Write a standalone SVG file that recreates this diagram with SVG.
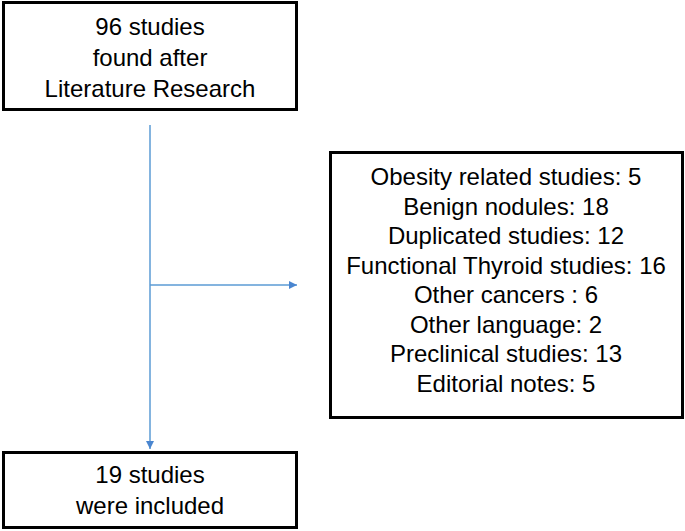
<svg xmlns="http://www.w3.org/2000/svg" width="685" height="531" viewBox="0 0 685 531">
<style>
.box{fill:#fff;stroke:#000;stroke-width:3}
.t{font-family:"Liberation Sans",Arial,sans-serif;font-size:24px;fill:#000;text-anchor:middle}
.c{fill:none;stroke:#5B9BD5;stroke-width:1.5}
</style>
<defs>
<marker id="ah" viewBox="0 0 10 10" refX="10" refY="5" markerWidth="9" markerHeight="8" markerUnits="userSpaceOnUse" orient="auto">
<path d="M0,0 L10,5 L0,10 z" fill="#4A86D0"/>
</marker>
</defs>
<g id="connectors">
<line class="c" x1="150" y1="125" x2="150" y2="449" marker-end="url(#ah)"/>
<line class="c" x1="150" y1="285" x2="297" y2="285" marker-end="url(#ah)"/>
</g>
<g id="n1">
<rect class="box" x="3.5" y="2.5" width="293" height="107"/>
<text class="t" x="150" y="35">96 studies</text>
<text class="t" x="150" y="66">found after</text>
<text class="t" x="150" y="97">Literature Research</text>
</g>
<g id="n2">
<rect class="box" x="330.5" y="152.5" width="352" height="265"/>
<text class="t" x="506" y="185">Obesity related studies: 5</text>
<text class="t" x="506" y="214.5">Benign nodules: 18</text>
<text class="t" x="506" y="244">Duplicated studies: 12</text>
<text class="t" x="506" y="273.5">Functional Thyroid studies: 16</text>
<text class="t" x="506" y="303">Other cancers : 6</text>
<text class="t" x="506" y="332.5">Other language: 2</text>
<text class="t" x="506" y="362">Preclinical studies: 13</text>
<text class="t" x="506" y="391.5">Editorial notes: 5</text>
</g>
<g id="n3">
<rect class="box" x="3.5" y="452.5" width="293" height="75"/>
<text class="t" x="150" y="483">19 studies</text>
<text class="t" x="150" y="514">were included</text>
</g>
</svg>
